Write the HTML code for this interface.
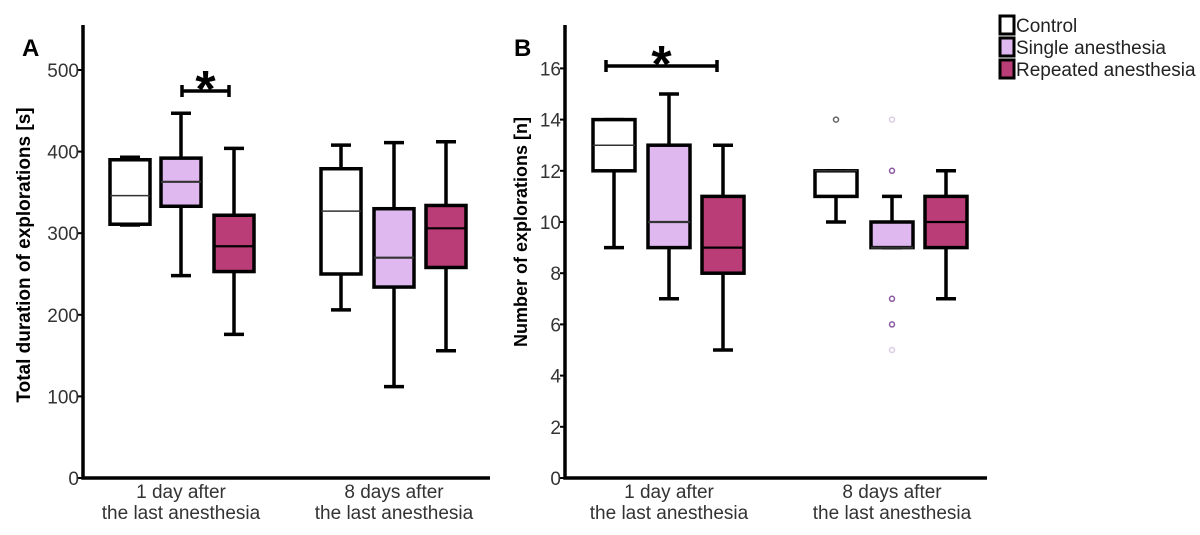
<!DOCTYPE html>
<html><head><meta charset="utf-8"><style>
body{margin:0;background:#fff;width:1200px;height:530px;overflow:hidden}
svg text{font-family:"Liberation Sans",sans-serif}
</style></head><body>
<svg id="chart" width="1200" height="530">
</svg>
<script>
const groups = ["1 day after|the last anesthesia","8 days after|the last anesthesia"];
const seriesNames = ["Control","Single anesthesia","Repeated anesthesia"];
const fills = ["#ffffff","#dfb8f0","#bb3d78"];
// [whiskerLow, q1, median, q3, whiskerHigh]
const durControl = [[310,311,346,390,393],[206,250,327,379,408]];
const durSingle = [[248,333,363,392,447],[112,234,270,330,411]];
const durRepeated = [[176,253,284,322,404],[156,258,306,334,412]];
const numControl = [[9,12,13,14,14],[10,11,12,12,12]];
const numSingle = [[7,9,10,13,15],[9,9,9,10,11]];
const numRepeated = [[5,8,9,11,13],[7,9,10,11,12]];
// [group, series, value, opacity]
const numOutliers = [[1,0,14,0.9],[1,1,12,1],[1,1,7,1],[1,1,6,1],[1,1,14,0.3],[1,1,5,0.3]];
const durTicks = [0,100,200,300,400,500];
const numTicks = [0,2,4,6,8,10,12,14,16];

const svg = document.getElementById('chart');
const NS = 'http://www.w3.org/2000/svg';
function mk(tag, attrs, parent){const e=document.createElementNS(NS,tag);for(const k in attrs)e.setAttribute(k,attrs[k]);(parent||svg).appendChild(e);return e;}

function panel(cfg){
  const g = mk('g',{});
  
  
  const y = v => cfg.y0 - v * cfg.scale;
  const ax = mk('path',{d:`M${cfg.ax} 25 V${cfg.y0} H${cfg.axEnd}`,stroke:'#000','stroke-width':3.5,fill:'none'},g);
  
  
  cfg.ticks.forEach(t=>{
    mk('line',{x1:cfg.ax-5,x2:cfg.ax,y1:y(t),y2:y(t),stroke:'#000','stroke-width':2},g);
    const tx = mk('text',{x:cfg.ax-4,y:y(t)+7,'text-anchor':'end','font-size':19,fill:'#333'},g);
    tx.textContent = t;
    
    
  });
  const tt = mk('text',{x:0,y:0,'font-size':cfg.titleSize,'font-weight':'bold','text-anchor':'middle',transform:`translate(${cfg.titleX},${cfg.titleY}) rotate(-90)`},g);
  tt.textContent = cfg.title;
  
  
  const lt = mk('text',{x:cfg.letterX,y:56,'font-size':24,'font-weight':'bold'},g);
  lt.textContent = cfg.letter;
  
  
  groups.forEach((gl,gi)=>{
    const parts = gl.split('|');
    const cx = cfg.centers[gi][1];
    parts.forEach((p,pi)=>{
      const t = mk('text',{x:cx,y:498+pi*21,'text-anchor':'middle','font-size':19,fill:'#333'},g);
      t.textContent = p;
      
      
    });
    cfg.series.forEach((s,si)=>{
      const d = s[gi]; const x = cfg.centers[gi][si]; const w = cfg.bw;
      const bg = mk('g',{},g);
      
      
      const sw = 3.5;
      mk('line',{x1:x,x2:x,y1:y(d[0]),y2:y(d[4]),stroke:'#000','stroke-width':sw},bg);
      mk('line',{x1:x-10,x2:x+10,y1:y(d[0]),y2:y(d[0]),stroke:'#000','stroke-width':sw},bg);
      mk('line',{x1:x-10,x2:x+10,y1:y(d[4]),y2:y(d[4]),stroke:'#000','stroke-width':sw},bg);
      mk('rect',{x:x-w/2,y:y(d[3]),width:w,height:Math.max(0,y(d[1])-y(d[3])),fill:fills[si],stroke:'#000','stroke-width':sw},bg);
      mk('line',{x1:x-w/2,x2:x+w/2,y1:y(d[2]),y2:y(d[2]),stroke:si==2?'#000':'#333','stroke-width':si==0?1.5:2.2},bg);
    });
  });
  (cfg.outliers||[]).forEach(o=>{
    const c = mk('circle',{cx:cfg.centers[o[0]][o[1]],cy:y(o[2]),r:2.5,fill:'none',stroke:o[1]==0?'#555':'#8a5aa0','stroke-width':1.5,opacity:o[3]},g);
    
    
  });
  const b = cfg.bracket;
  const br = mk('path',{d:`M${b[0]} ${b[2]} H${b[1]} M${b[0]} ${b[2]-6} V${b[2]+6} M${b[1]} ${b[2]-6} V${b[2]+6}`,stroke:'#000','stroke-width':3.5,fill:'none'},g);
  
  
  const st = mk('text',{x:(b[0]+b[1])/2,y:b[2]+16,'text-anchor':'middle','font-size':52,'font-weight':'bold'},g);
  st.textContent='*';
  
  
}
panel({name:'panel-a-duration',ax:83,axEnd:490,y0:478,scale:0.816,ticks:durTicks,title:'Total duration of explorations [s]',titleSize:19,titleX:30,titleY:255,letter:'A',letterX:22,
  centers:[[130,181,234],[341,394,446]],bw:40,series:[durControl,durSingle,durRepeated],bracket:[182,229,91]});
panel({name:'panel-b-number',ax:565,axEnd:987,y0:478,scale:25.6,ticks:numTicks,title:'Number of explorations  [n]',titleSize:18,titleX:527,titleY:232,letter:'B',letterX:514,
  centers:[[614,669,723],[836,892,946]],bw:42,series:[numControl,numSingle,numRepeated],outliers:numOutliers,bracket:[606,717,66]});
seriesNames.forEach((n,i)=>{
  const lg = mk('g',{});
  
  
  mk('rect',{x:1000,y:16+i*22,width:14,height:18,fill:fills[i],stroke:'#000','stroke-width':3},lg);
  const t = mk('text',{x:1016,y:32+i*22,'font-size':19,fill:'#222'},lg);
  t.textContent = n;
});
</script>
</body></html>
